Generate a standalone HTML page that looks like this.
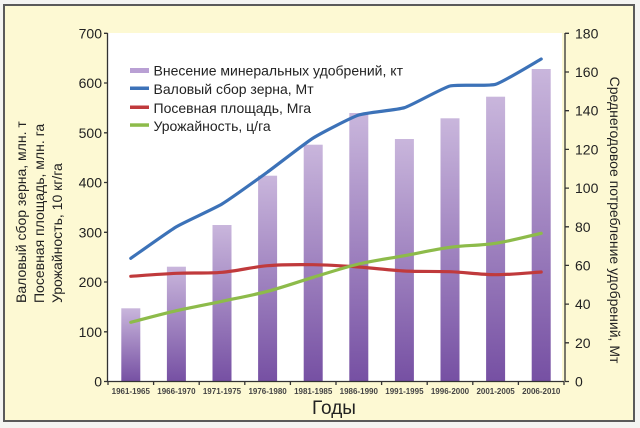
<!DOCTYPE html>
<html>
<head>
<meta charset="utf-8">
<style>
html,body{margin:0;padding:0;background:#fff;}
svg{display:block;}
text{font-family:"Liberation Sans","DejaVu Sans",sans-serif;}
</style>
</head>
<body>
<svg width="640" height="428" viewBox="0 0 640 428" xmlns="http://www.w3.org/2000/svg">
<defs>
<linearGradient id="bg" x1="0" y1="0" x2="0" y2="1">
<stop offset="0" stop-color="#c9b6dc"/>
<stop offset="1" stop-color="#7650a3"/>
</linearGradient>
</defs>
<rect x="0" y="0" width="640" height="428" fill="#f4f4f2"/>
<rect x="4" y="5" width="630" height="416" fill="#fdf9d3" stroke="#5a5a5a" stroke-width="2"/>
<!-- plot area -->
<rect x="108" y="33" width="454" height="348.5" fill="#ffffff"/>

<!-- bars -->
<g fill="url(#bg)">
<rect x="121.3" y="308.3" width="19" height="73.2"/>
<rect x="166.9" y="266.7" width="19" height="114.8"/>
<rect x="212.5" y="225" width="19" height="156.5"/>
<rect x="258.1" y="175.7" width="19" height="205.8"/>
<rect x="303.7" y="144.7" width="19" height="236.8"/>
<rect x="349.3" y="113" width="19" height="268.5"/>
<rect x="394.9" y="139" width="19" height="242.5"/>
<rect x="440.5" y="118.3" width="19" height="263.2"/>
<rect x="486.1" y="96.7" width="19" height="284.8"/>
<rect x="531.7" y="69" width="19" height="312.5"/>
</g>

<!-- lines -->
<g fill="none" stroke-width="3.2" stroke-linecap="round" stroke-linejoin="round">
<path stroke="#3c72b8" d="M130.8,258.3 C134.6,255.7 168.8,231.2 176.4,226.7 C184,222.2 214.4,208.6 222,204 C229.6,199.4 260,177.5 267.6,172 C275.2,166.5 305.6,142.75 313.2,138 C320.8,133.25 351.2,117.5 358.8,115 C366.4,112.5 396.8,110.1 404.4,107.7 C412,105.3 442.4,87.95 450,86 C457.6,84.05 488,86.55 495.6,84.3 C503.2,82.05 537.4,61.1 541.2,59"/>
<path stroke="#c03a3c" d="M130.8,276.3 C138.4,275.8 161.2,274.0 176.4,273.3 C191.6,272.6 206.8,273.6 222,272.3 C237.2,271.0 252.4,267.0 267.6,265.7 C282.8,264.4 298,264.5 313.2,264.7 C328.4,264.9 343.6,265.95 358.8,267 C374,268.05 389.2,270.2 404.4,271 C419.6,271.8 434.8,271.1 450,271.7 C465.2,272.3 480.4,274.65 495.6,274.7 C510.8,274.75 533.6,272.45 541.2,272"/>
<path stroke="#8dbb4a" d="M130.8,322.3 C138.4,320.37 161.2,314.2 176.4,310.7 C191.6,307.2 206.8,304.53 222,301.3 C237.2,298.07 252.4,295.3 267.6,291.3 C282.8,287.3 298,281.85 313.2,277.3 C328.4,272.75 343.6,267.6 358.8,264 C374,260.4 389.2,258.48 404.4,255.7 C419.6,252.92 434.8,249.37 450,247.3 C465.2,245.23 480.4,245.63 495.6,243.3 C510.8,240.97 533.6,234.97 541.2,233.3"/>
</g>

<!-- axes -->
<g stroke="#333" stroke-width="1.3" fill="none">
<line x1="107.5" y1="33" x2="107.5" y2="381.5"/>
<line x1="107.5" y1="381.5" x2="564" y2="381.5"/>
<line x1="565" y1="33" x2="565" y2="381.5"/>
<path d="M104,33.3H107.5 M104,83H107.5 M104,132.8H107.5 M104,182.5H107.5 M104,232.3H107.5 M104,282H107.5 M104,331.8H107.5 M104,381.5H107.5"/>
<path d="M565,33.3H569 M565,72H569 M565,110.7H569 M565,149.4H569 M565,188.1H569 M565,226.8H569 M565,265.4H569 M565,304.1H569 M565,342.8H569 M565,381.5H569"/>
<path d="M108,381.5V385 M153.6,381.5V385 M199.2,381.5V385 M244.8,381.5V385 M290.4,381.5V385 M336,381.5V385 M381.6,381.5V385 M427.2,381.5V385 M472.8,381.5V385 M518.4,381.5V385 M564,381.5V385"/>
</g>

<!-- left tick labels -->
<g font-size="14" fill="#222" text-anchor="end">
<text x="102" y="38.3">700</text>
<text x="102" y="88">600</text>
<text x="102" y="137.8">500</text>
<text x="102" y="187.5">400</text>
<text x="102" y="237.3">300</text>
<text x="102" y="287">200</text>
<text x="102" y="336.8">100</text>
<text x="102" y="386.5">0</text>
</g>
<!-- right tick labels -->
<g font-size="14" fill="#222" text-anchor="start">
<text x="575" y="38.3">180</text>
<text x="575" y="77">160</text>
<text x="575" y="115.7">140</text>
<text x="575" y="154.4">120</text>
<text x="575" y="193.1">100</text>
<text x="575" y="231.8">80</text>
<text x="575" y="270.4">60</text>
<text x="575" y="309.1">40</text>
<text x="575" y="347.8">20</text>
<text x="575" y="386.5">0</text>
</g>

<!-- x tick labels -->
<g font-size="8" font-weight="bold" fill="#444" text-anchor="middle">
<text x="130.8" y="394">1961-1965</text>
<text x="176.4" y="394">1966-1970</text>
<text x="222" y="394">1971-1975</text>
<text x="267.6" y="394">1976-1980</text>
<text x="313.2" y="394">1981-1985</text>
<text x="358.8" y="394">1986-1990</text>
<text x="404.4" y="394">1991-1995</text>
<text x="450" y="394">1996-2000</text>
<text x="495.6" y="394">2001-2005</text>
<text x="541.2" y="394">2006-2010</text>
</g>

<text x="334" y="414" font-size="19" fill="#222" text-anchor="middle">Годы</text>

<!-- left axis title -->
<g font-size="14" fill="#222" text-anchor="start">
<text transform="translate(26,303) rotate(-90)">Валовый сбор зерна, млн. т</text>
<text transform="translate(44,303) rotate(-90)">Посевная площадь, млн. га</text>
<text transform="translate(62,303) rotate(-90)">Урожайность, 10 кг/га</text>
</g>
<!-- right axis title -->
<text transform="translate(610,220) rotate(90)" font-size="14" fill="#222" text-anchor="middle">Среднегодовое потребление удобрений, Мт</text>

<!-- legend -->
<rect x="130" y="68" width="19" height="5" fill="#b9a0d4"/>
<rect x="130" y="86.5" width="19" height="3.5" fill="#3c72b8"/>
<rect x="130" y="105.5" width="19" height="3.5" fill="#c03a3c"/>
<rect x="130" y="123.3" width="19" height="3.5" fill="#8dbb4a"/>
<g font-size="14" fill="#222">
<text x="153.5" y="75.7">Внесение минеральных удобрений, кт</text>
<text x="153.5" y="94">Валовый сбор зерна, Мт</text>
<text x="153.5" y="112.8">Посевная площадь, Мга</text>
<text x="153.5" y="130.8">Урожайность, ц/га</text>
</g>
</svg>
</body>
</html>
